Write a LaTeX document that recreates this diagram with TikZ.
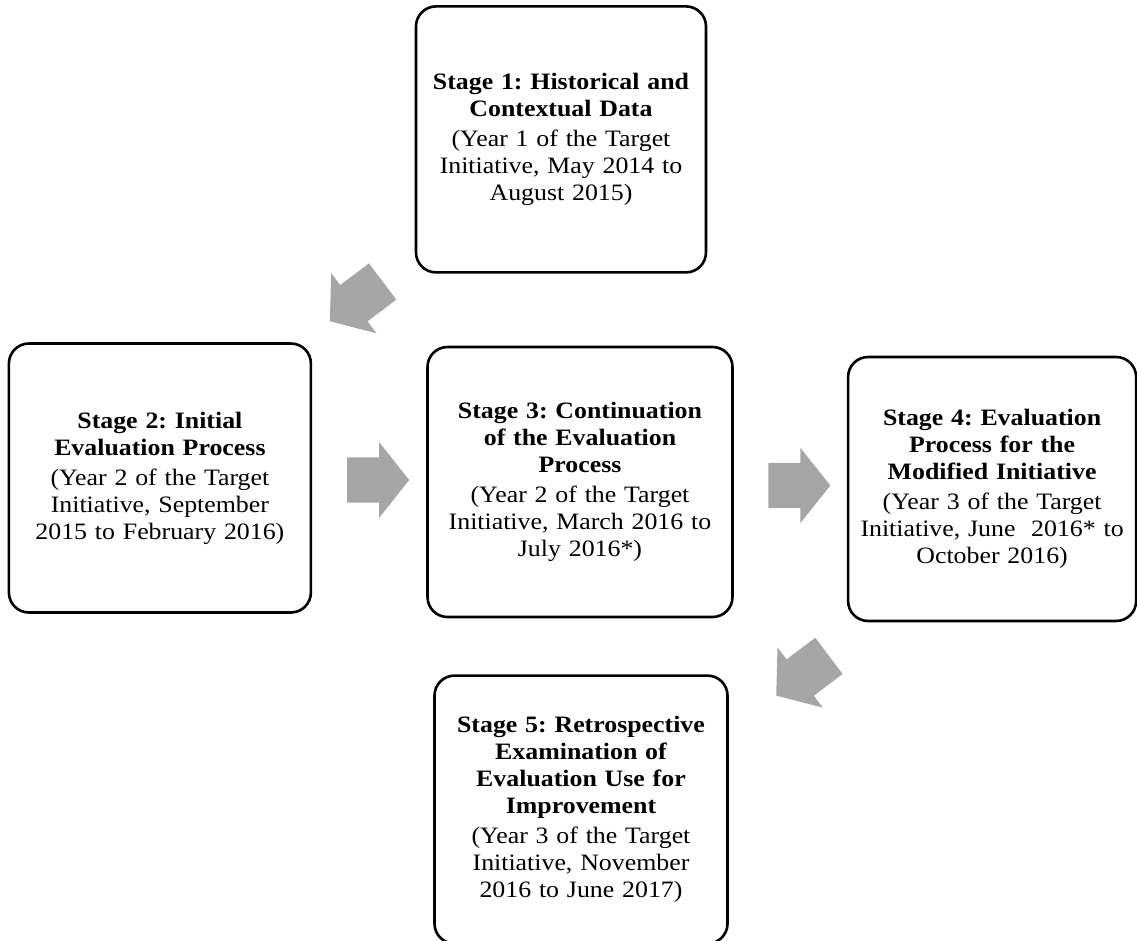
\documentclass[tikz,border=0pt]{standalone}
\usepackage{fontspec}
\setmainfont{Liberation Serif}[FakeStretch=1.1]
\usetikzlibrary{positioning}
\usetikzlibrary{calc}
\usetikzlibrary{shapes.arrows}

\definecolor{arrowgray}{HTML}{A6A6A6}

\begin{document}
\frenchspacing
\begin{tikzpicture}[x=1pt, y=-1pt]

\tikzset{stage/.style={draw, line width=2.6pt, rounded corners=20pt,
                       align=center, inner sep=0pt,
                       font=\fontsize{23.5}{27}\selectfont},
         blockarrow/.style={single arrow, fill=arrowgray, draw=none,
                            minimum height=62pt, inner xsep=0pt, inner ysep=22.5pt,
                            single arrow head extend=15pt,
                            single arrow tip angle=103}}

\useasboundingbox (0,0) rectangle (1137,941);

\node (s3) [stage, minimum width=305pt, minimum height=270pt, text width=295pt]
  at (580,482) {\bfseries Stage 3: Continuation\\ of the Evaluation\\ Process\\[3pt]
  \mdseries (Year 2 of the Target\\ Initiative, March 2016 to\\ July 2016*)};
\node (s2) [stage, minimum width=302pt, minimum height=269pt, text width=295pt,
            left=114pt of s3, yshift=4pt] {\bfseries Stage 2: Initial\\ Evaluation Process\\[3pt]
  \mdseries (Year 2 of the Target\\ Initiative, September\\ 2015 to February 2016)};
\node (s4) [stage, minimum width=288pt, minimum height=264pt, text width=285pt,
            right=113pt of s3, yshift=-7pt] {\bfseries Stage 4: Evaluation\\ Process for the\\ Modified Initiative\\[3pt]
  \mdseries (Year 3 of the Target\\ Initiative, June~~2016* to\\ October 2016)};
\node (s1) [stage, minimum width=290pt, minimum height=266pt, text width=285pt,
            above=72pt of s3, xshift=-19pt] {\bfseries Stage 1: Historical and\\ Contextual Data\\[3pt]
  \mdseries (Year 1 of the Target\\ Initiative, May 2014 to\\ August 2015)};
\node (s5) [stage, minimum width=293pt, minimum height=268pt, text width=290pt,
            below=56pt of s3, xshift=1pt] {\bfseries Stage 5: Retrospective\\ Examination of\\ Evaluation Use for\\ Improvement\\[3pt]
  \mdseries (Year 3 of the Target\\ Initiative, November\\ 2016 to June 2017)};

% arrows between the stages
\node (a12) [blockarrow, minimum height=66pt, rotate=217] at ($(s1.south west)!0.5!(s2.north east)+(0,-12)$) {};
\node (a23) [blockarrow] at ($(s2.east)!0.5!(s3.west)$) {};
\node (a34) [blockarrow] at ($(s3.east)!0.5!(s4.west)$) {};
\node (a45) [blockarrow, minimum height=66pt, rotate=217] at ($(s4.south west)!0.5!(s5.north east)+(22,22)$) {};

\end{tikzpicture}
\end{document}
